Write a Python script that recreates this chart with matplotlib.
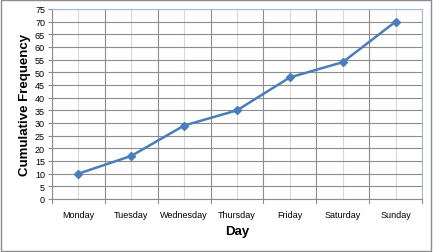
import matplotlib
matplotlib.use("Agg")
import matplotlib.pyplot as plt
import numpy as np
from matplotlib.patches import Rectangle

days = ["Monday", "Tuesday", "Wednesday", "Thursday", "Friday", "Saturday", "Sunday"]
cum_freq = [10, 17, 29, 35, 48, 54, 70]
yticks = list(range(0, 80, 5))

plt.rcParams['font.family'] = ['Liberation Sans', 'DejaVu Sans']

fig = plt.figure(figsize=(4.33, 2.53), dpi=100)
ax = fig.add_axes([52/433, 1-200/253, 370/433, 190/253])

n = len(days)
x = np.arange(n)
ax.set_xlim(-0.5, n - 0.5)
ax.set_ylim(0, 75)

# gridlines
for yv in yticks:
    ax.axhline(yv, color="#8c8c8c", lw=0.8, zorder=1)
for xv in np.arange(-0.5, n, 1.0):
    ax.axvline(xv, color="#8c8c8c", lw=0.8, zorder=1)
for xv in x:
    ax.axvline(xv, color="#d9d9d9", lw=0.8, zorder=0.9)

ax.plot(x, cum_freq, color="#4a7ebb", lw=1.8, marker="D", markersize=4, zorder=3)

ax.set_yticks(yticks)
ax.set_yticklabels([str(v) for v in yticks], fontsize=6.5)
ax.set_xticks(x)
ax.set_xticklabels(days, fontsize=6.5)
ax.tick_params(axis="x", length=0, pad=8)
ax.tick_params(axis="y", length=3, width=0.8, color="#8c8c8c", pad=2)
for xv in np.arange(-0.5, n, 1.0):
    ax.plot([xv, xv], [0, -1.5], color="#8c8c8c", lw=0.8, clip_on=False)

for side in ["top", "right"]:
    ax.spines[side].set_color("#9dbbe0")
    ax.spines[side].set_linewidth(0.8)
for side in ["left", "bottom"]:
    ax.spines[side].set_color("#8c8c8c")
    ax.spines[side].set_linewidth(0.8)

ax.set_ylabel("Cumulative Frequency", fontsize=9.5, fontweight="bold", labelpad=3)
ax.set_xlabel("Day", fontsize=9.5, fontweight="bold", labelpad=4)

fig.patches.append(Rectangle((0.002, 0.004), 0.994, 0.992, transform=fig.transFigure,
                             fill=False, edgecolor="#8c8c8c", lw=1.0))

fig.savefig("out.png", dpi=100)
